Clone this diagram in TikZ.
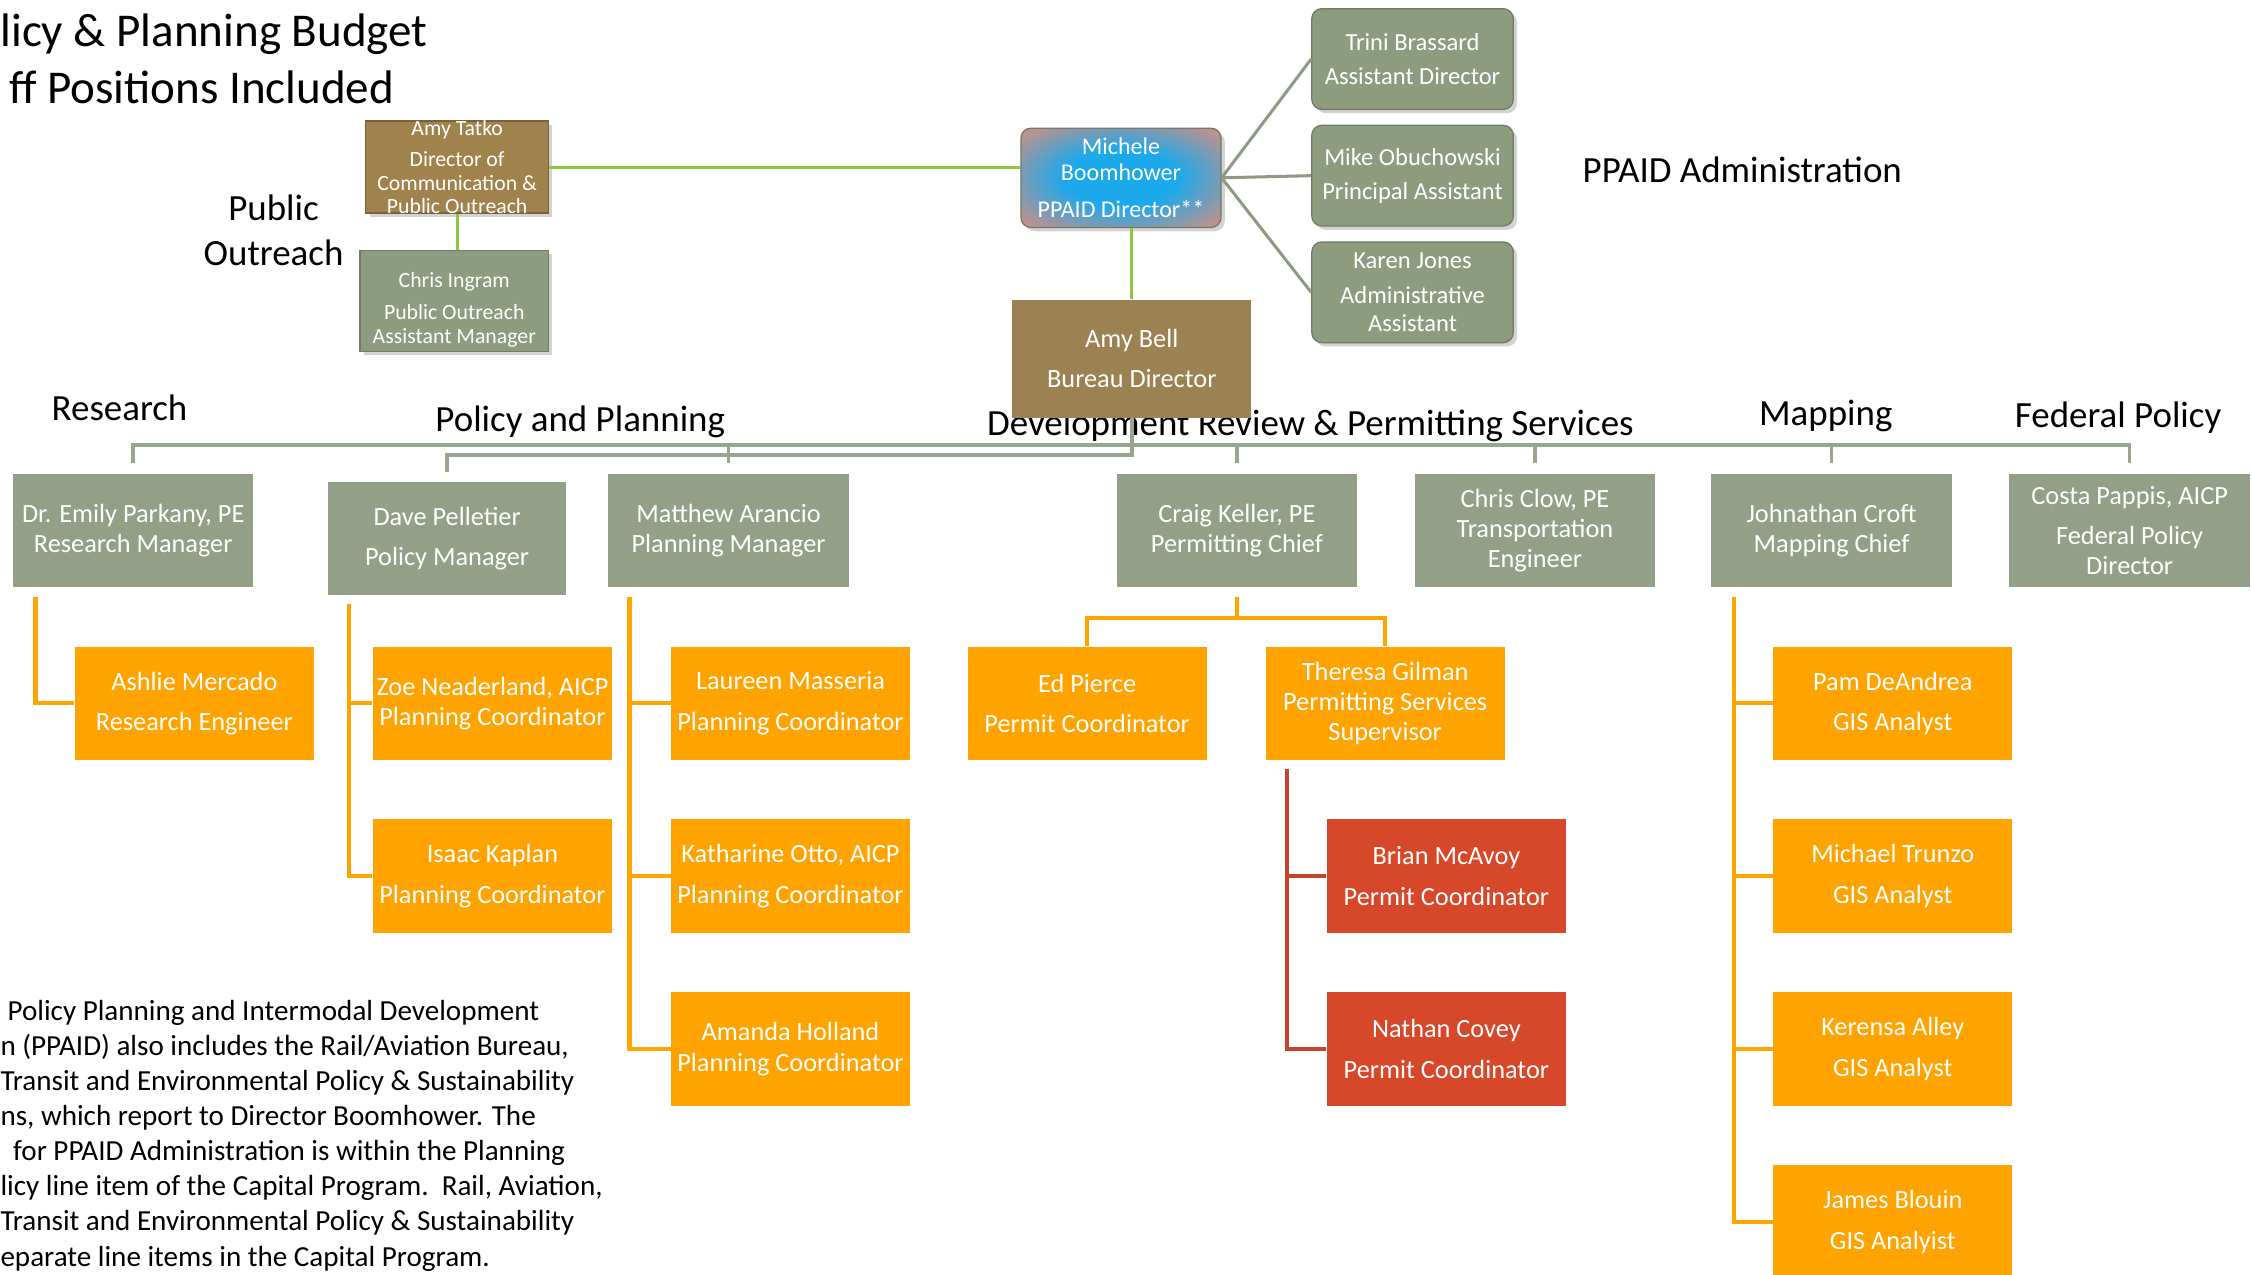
\documentclass[tikz,border=0pt]{standalone}
\usepackage{fontspec}
\setmainfont{Carlito}
\usetikzlibrary{calc,shadows}

\definecolor{mgrgreen}{HTML}{949F88}
\definecolor{admgreen}{HTML}{8D9B7F}
\definecolor{admedge}{HTML}{6F7B64}
\definecolor{bellbrown}{HTML}{9C8152}
\definecolor{tatkobrown}{HTML}{A0824C}
\definecolor{tatkoedge}{HTML}{7A6238}
\definecolor{stafforange}{HTML}{FFA300}
\definecolor{permitred}{HTML}{D7482B}
\definecolor{orgline}{HTML}{FFA500}
\definecolor{redline}{HTML}{C8432B}
\definecolor{linegreen}{HTML}{8DC63F}
\definecolor{busgreen}{HTML}{9AA58E}
\definecolor{admline}{HTML}{8E9A85}
\definecolor{michblue}{HTML}{1BA9EC}
\definecolor{michrose}{HTML}{B99291}

\pgfdeclareradialshading{michshade}{\pgfpoint{0bp}{0bp}}{%
  color(0bp)=(michblue); color(14bp)=(michblue);
  color(32bp)=(michrose); color(50bp)=(michrose)}

\tikzset{
  box/.style={inner sep=0pt, align=center, text=white, font=\fontsize{10.4}{12}\selectfont},
  mgr/.style={box, fill=mgrgreen, minimum width=3.34cm, minimum height=1.58cm},
  staff/.style={box, fill=stafforange, minimum width=3.32cm, minimum height=1.58cm},
  permit/.style={staff, fill=permitred},
  admin/.style={box, fill=admgreen, draw=admedge, line width=0.5pt, rounded corners=4pt,
    drop shadow={shadow xshift=1.5pt, shadow yshift=-1.5pt, opacity=0.35},
    minimum width=2.8cm, minimum height=1.4cm, font=\fontsize{9.7}{11}\selectfont},
  director/.style={admin, fill=none, shade, shading=michshade,
    minimum width=2.78cm, minimum height=1.38cm, font=\fontsize{9.5}{10.2}\selectfont},
  outreach/.style={box, draw=admedge, line width=0.5pt,
    drop shadow={shadow xshift=1.5pt, shadow yshift=-1.5pt, opacity=0.35},
    font=\fontsize{8.6}{9.4}\selectfont},
  grouplabel/.style={inner sep=0pt, align=center, font=\fontsize{14.6}{18.1}\selectfont},
  greenline/.style={draw=linegreen, line width=1.2pt},
  adminline/.style={draw=admline, line width=1.2pt},
  busline/.style={draw=busgreen, line width=1.4pt},
  orgbranch/.style={draw=orgline, line width=1.6pt},
  redbranch/.style={draw=redline, line width=1.6pt}
}

\begin{document}
\begin{tikzpicture}[x=0.02cm, y=-0.02cm]
\useasboundingbox (0,0) rectangle (1564,885);
\clip (0,0) rectangle (1564,885);

% titles and notes
\node[inner sep=0pt, anchor=base west, font=\fontsize{18.6}{22.7}\selectfont] (title1) at (0,32) {licy \& Planning Budget};
\node[inner sep=0pt, anchor=base west, font=\fontsize{18.6}{22.7}\selectfont] (title2) at (6,72) {ff Positions Included};
\node[inner sep=0pt, anchor=north west, align=left, font=\fontsize{11.5}{13.9}\selectfont] (note) at (0,694) {%
\hspace*{2.8pt}Policy Planning and Intermodal Development\\
n (PPAID) also includes the Rail/Aviation Bureau,\\
Transit and Environmental Policy \& Sustainability\\
ns, which report to Director Boomhower. The\\
\hspace*{5pt}for PPAID Administration is within the Planning\\
licy line item of the Capital Program.\ \ Rail, Aviation,\\
Transit and Environmental Policy \& Sustainability\\
eparate line items in the Capital Program.};

% group labels
\node[grouplabel] (lbloutreach) at (190,160) {Public\\Outreach};
\node[grouplabel] (lbladmin) at (1210,118) {PPAID Administration};
\node[grouplabel] (lblresearch) at (83,283) {Research};
\node[grouplabel] (lblpolicy) at (403,293) {Policy and Planning};
\node[grouplabel] (lbldevrev) at (910,296) {Development Review \& Permitting Services};
\node[grouplabel] (lblmapping) at (1268,289) {Mapping};
\node[grouplabel] (lblfederal) at (1471,290) {Federal Policy};

% top of the bureau
\node[outreach, fill=tatkobrown, draw=tatkoedge, minimum width=2.54cm, minimum height=1.28cm, inner ysep=-4pt] (tatko) at (317.5,116)
  {Amy Tatko\\[3pt]Director of\\Communication \&\\Public Outreach};
\node[outreach, fill=admgreen, minimum width=2.62cm, minimum height=1.4cm] (ingram) at (315.5,209)
  {\rule{0pt}{13pt}Chris Ingram\\[3pt]Public Outreach\\Assistant Manager};
\node[director] (boomhower) at (778.5,123.5) {Michele\\Boomhower\\[4.5pt]PPAID Director**};
\node[box, fill=bellbrown, minimum width=3.32cm, minimum height=1.64cm] (bell) at (786,249) {Amy Bell\\[4pt]Bureau Director};
\node[admin] (brassard) at (981,41) {Trini Brassard\\[2.6pt]Assistant Director};
\node[admin] (obuchowski) at (981,122) {Mike Obuchowski\\[2.6pt]Principal Assistant};
\node[admin] (jones) at (981,203) {Karen Jones\\[2.6pt]Administrative\\Assistant};

% managers
\node[mgr] (parkany) at (92.5,368.5) {Dr. Emily Parkany, PE\\Research Manager};
\node[mgr, minimum width=3.3cm, minimum height=1.56cm] (pelletier) at (310.5,374) {Dave Pelletier\\[4pt]Policy Manager};
\node[mgr] (arancio) at (506,368.5) {Matthew Arancio\\Planning Manager};
\node[mgr] (keller) at (859,368.5) {Craig Keller, PE\\Permitting Chief};
\node[mgr] (clow) at (1066,368.5) {Chris Clow, PE\\Transportation\\Engineer};
\node[mgr] (croft) at (1272,368.5) {Johnathan Croft\\Mapping Chief};
\node[mgr] (pappis) at (1479,368.5) {Costa Pappis, AICP\\[4pt]Federal Policy\\Director};

% staff
\node[staff] (mercado) at (135,488.5) {Ashlie Mercado\\[4pt]Research Engineer};
\node[staff] (neaderland) at (342,488.5) {Zoe Neaderland, AICP\\Planning Coordinator};
\node[staff] (kaplan) at (342,608.5) {Isaac Kaplan\\[4pt]Planning Coordinator};
\node[staff] (masseria) at (549,488.5) {Laureen Masseria\\[4pt]Planning Coordinator};
\node[staff] (otto) at (549,608.5) {Katharine Otto, AICP\\[4pt]Planning Coordinator};
\node[staff] (holland) at (549,728.5) {Amanda Holland\\Planning Coordinator};
\node[staff] (pierce) at (755,488.5) {Ed Pierce\\[4pt]Permit Coordinator};
\node[staff] (gilman) at (962,488.5) {Theresa Gilman\\Permitting Services\\Supervisor};
\node[permit] (mcavoy) at (1004.5,608.5) {Brian McAvoy\\[4pt]Permit Coordinator};
\node[permit] (covey) at (1004.5,728.5) {Nathan Covey\\[4pt]Permit Coordinator};
\node[staff] (deandrea) at (1314.5,488.5) {Pam DeAndrea\\[4pt]GIS Analyst};
\node[staff] (trunzo) at (1314.5,608.5) {Michael Trunzo\\[4pt]GIS Analyst};
\node[staff] (alley) at (1314.5,728.5) {Kerensa Alley\\[4pt]GIS Analyst};
\node[staff] (blouin) at (1314.5,848.5) {James Blouin\\[4pt]GIS Analyist};

% connectors at the top
\draw[greenline] (tatko.east) -- (tatko.east -| boomhower.west);
\draw[greenline] (tatko.south) -- (tatko.south |- ingram.north);
\draw[greenline] (bell.north |- boomhower.south) -- (bell.north);
\foreach \n in {brassard,obuchowski,jones}
  \draw[adminline] (boomhower.east) -- (\n.west);

% bus to the managers
\coordinate (bus) at (0,309);
\coordinate (bus2) at (0,316);
\draw[busline, shorten <=4pt, shorten >=4pt] (parkany.north) -- (parkany.north |- bus) -- (pappis.north |- bus) -- (pappis.north);
\foreach \m in {arancio,keller,clow,croft}
  \draw[busline, shorten <=4pt] (\m.north) -- (\m.north |- bus);
\draw[busline, shorten <=4pt] (pelletier.north) -- (pelletier.north |- bus2) -- (bell.south |- bus2) -- (bell.south);

% branches to the staff
\draw[orgbranch] ($(parkany.south west)+(16,6)$) |- (mercado.west);
\draw[orgbranch] ($(pelletier.south west)+(15,6)$) coordinate (p0) |- (kaplan.west);
\draw[orgbranch] (p0 |- neaderland.west) -- (neaderland.west);
\draw[orgbranch] ($(arancio.south west)+(15,6)$) coordinate (a0) |- (holland.west);
\foreach \s in {masseria,otto}
  \draw[orgbranch] (a0 |- \s.west) -- (\s.west);
\coordinate (kbar) at ($(keller.south)+(0,21)$);
\draw[orgbranch] ($(keller.south)+(0,6)$) -- (kbar);
\draw[orgbranch] (pierce.north) |- (kbar) -| (gilman.north);
\draw[redbranch] ($(gilman.south west)+(15,6)$) coordinate (g0) |- (covey.west);
\draw[redbranch] (g0 |- mcavoy.west) -- (mcavoy.west);
\draw[orgbranch] ($(croft.south west)+(16,6)$) coordinate (c0) |- (blouin.west);
\foreach \s in {deandrea,trunzo,alley}
  \draw[orgbranch] (c0 |- \s.west) -- (\s.west);
\end{tikzpicture}
\end{document}
